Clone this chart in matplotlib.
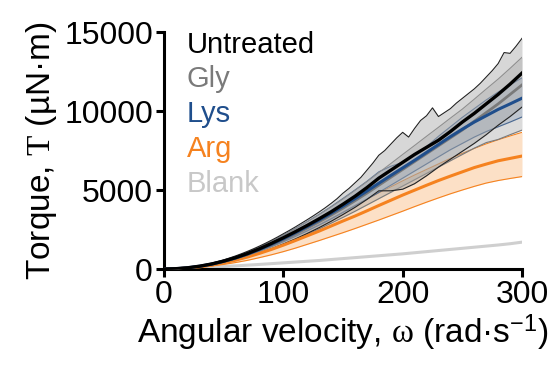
import numpy as np
import matplotlib
matplotlib.use("Agg")
import matplotlib.pyplot as plt

plt.rcParams['font.family'] = ['Liberation Sans', 'DejaVu Sans']
plt.rcParams['mathtext.fontset'] = 'custom'
plt.rcParams['mathtext.rm'] = 'Liberation Serif'
plt.rcParams['mathtext.it'] = 'Liberation Serif:italic'
plt.rcParams['mathtext.sf'] = 'Liberation Sans'

# angular velocity grid (rad/s), readings every 10
omega = np.arange(0, 301, 10)
# finer grid for the jagged top edge of the untreated band
omega_fine = np.arange(0, 301, 5)

untreated_mean = [0, 20, 80, 180, 320, 500, 720, 980, 1280, 1620, 1980, 2360, 2760, 3180, 3620, 4100,
                  4600, 5150, 5750, 6250, 6750, 7250, 7700, 8150, 8700, 9300, 9850, 10450, 11050, 11700, 12400]
untreated_upper = [0, 5, 25, 55, 95, 145, 210, 285, 370, 470, 580, 700, 830, 970, 1120, 1280, 1450, 1630,
                   1820, 2020, 2230, 2440, 2660, 2890, 3120, 3360, 3610, 3870, 4150, 4450, 4800, 5100, 5450,
                   5800, 6250, 6700, 7200, 7500, 7900, 8300, 8650, 8350, 8900, 9400, 9700, 10200, 9650, 9900,
                   10150, 10500, 10800, 11100, 11400, 11750, 12150, 12550, 13000, 13700, 13650, 14100, 14600]
untreated_lower = [0, 15, 60, 140, 250, 390, 560, 770, 1010, 1280, 1580, 1900, 2250, 2620, 3020, 3450,
                   3900, 4400, 4950, 4950, 5050, 5400, 5900, 6450, 6950, 7450, 7950, 8500, 9100, 9650, 10250]

gly_mean = [0, 18, 75, 170, 300, 470, 680, 920, 1200, 1510, 1850, 2210, 2590, 2990, 3410, 3850,
            4320, 4800, 5300, 5800, 6300, 6800, 7300, 7800, 8300, 8800, 9350, 9900, 10450, 11050, 11650]
gly_upper = [0, 21, 86, 196, 345, 540, 780, 1060, 1380, 1740, 2130, 2540, 2980, 3440, 3920, 4430,
             4970, 5520, 6100, 6670, 7250, 7820, 8400, 8970, 9550, 10120, 10750, 11390, 12020, 12700, 13400]
gly_lower = [0, 15, 64, 144, 255, 400, 580, 780, 1020, 1280, 1570, 1880, 2200, 2540, 2900, 3270,
             3650, 4050, 4450, 4850, 5250, 5650, 6050, 6450, 6850, 7250, 7650, 8000, 8200, 8500, 8790]

lys_mean = [0, 20, 80, 180, 315, 490, 700, 950, 1240, 1570, 1920, 2300, 2690, 3100, 3530, 3980,
            4450, 4930, 5430, 5920, 6400, 6880, 7380, 7880, 8380, 8850, 9300, 9700, 10100, 10450, 10810]
lys_upper = [0, 22, 90, 200, 350, 545, 780, 1060, 1380, 1740, 2140, 2560, 3000, 3460, 3950, 4470,
             5000, 5550, 6150, 6500, 6750, 7200, 7750, 8400, 9000, 9600, 10150, 10700, 11200, 11650, 12100]
lys_lower = [0, 17, 70, 160, 280, 435, 625, 850, 1110, 1410, 1720, 2060, 2410, 2780, 3170, 3580,
             4000, 4420, 4850, 5300, 5750, 6200, 6650, 7100, 7550, 7950, 8350, 8700, 9000, 9300, 9620]

arg_mean = [0, 15, 60, 140, 250, 390, 560, 760, 990, 1240, 1510, 1800, 2100, 2400, 2720, 3040,
            3350, 3680, 4020, 4350, 4680, 4990, 5300, 5600, 5880, 6150, 6420, 6640, 6850, 7000, 7150]
arg_upper = [0, 17, 70, 160, 290, 450, 650, 880, 1140, 1430, 1750, 2090, 2450, 2820, 3210, 3610,
             4020, 4420, 4820, 5200, 5580, 5950, 6300, 6650, 7000, 7320, 7630, 7920, 8180, 8420, 8650]
arg_lower = [0, 12, 48, 110, 190, 290, 410, 550, 720, 900, 1100, 1320, 1560, 1800, 2050, 2300,
             2560, 2830, 3100, 3380, 3660, 3950, 4230, 4500, 4760, 5000, 5230, 5440, 5600, 5730, 5850]

blank_mean = [0, 20, 50, 80, 120, 160, 200, 245, 290, 340, 390, 440, 490, 540, 600, 660,
              720, 780, 840, 900, 960, 1030, 1100, 1170, 1240, 1310, 1380, 1450, 1520, 1600, 1700]

labels = ['Untreated', 'Gly', 'Lys', 'Arg', 'Blank']
colors = ['#000000', '#7a7a7a', '#1f4e8c', '#f5821f', '#c8c8c8']

fig = plt.figure(figsize=(5.59, 3.71), dpi=100)
ax = fig.add_axes([0.2934, 0.2749, 0.6404, 0.6388])

# blank
ax.plot(omega, blank_mean, color='#cfcfcf', lw=2.2, zorder=2)

# Arg
ax.fill_between(omega, arg_lower, arg_upper, color='#fcd9b8', alpha=0.8, lw=0, zorder=3)
ax.plot(omega, arg_upper, color=colors[3], lw=0.8, zorder=3)
ax.plot(omega, arg_lower, color=colors[3], lw=0.8, zorder=3)

# Lys
ax.fill_between(omega, lys_lower, lys_upper, color='#9fb6d6', alpha=0.45, lw=0, zorder=4)
ax.plot(omega, lys_upper, color=colors[2], lw=0.8, zorder=4)
ax.plot(omega, lys_lower, color=colors[2], lw=0.8, zorder=4)

# Gly
ax.fill_between(omega, gly_lower, gly_upper, color='#9a9a9a', alpha=0.35, lw=0, zorder=5)
ax.plot(omega, gly_upper, color=colors[1], lw=0.8, zorder=5)
ax.plot(omega, gly_lower, color=colors[1], lw=0.8, zorder=5)

# Untreated
ax.fill_between(omega_fine, np.interp(omega_fine, omega, untreated_lower), untreated_upper,
                color='#a8a8a8', alpha=0.45, lw=0, zorder=6)
ax.plot(omega_fine, untreated_upper, color='#222222', lw=0.8, zorder=6)
ax.plot(omega, untreated_lower, color='#222222', lw=0.8, zorder=6)

# means on top
ax.plot(omega, arg_mean, color=colors[3], lw=2.2, zorder=7)
ax.plot(omega, gly_mean, color=colors[1], lw=2.0, zorder=7)
ax.plot(omega, lys_mean, color=colors[2], lw=2.2, zorder=8)
ax.plot(omega, untreated_mean, color=colors[0], lw=2.4, zorder=9)

ax.set_xlim(0, 300)
ax.set_ylim(0, 15000)
ax.set_xticks([0, 100, 200, 300])
ax.set_yticks([0, 5000, 10000, 15000])
for s in ['top', 'right']:
    ax.spines[s].set_visible(False)
for s in ['left', 'bottom']:
    ax.spines[s].set_linewidth(2.2)
ax.tick_params(width=2.2, length=6, labelsize=23, pad=2)

ax.set_xlabel('Angular velocity, $\\mathrm{\u03c9}$ (rad\u00b7s$^{\\mathsf{-1}}$)', fontsize=24, labelpad=2)
ax.set_ylabel('Torque, $\\mathrm{T}$ (\u00b5N\u00b7m)', fontsize=24, labelpad=4)

# coloured text legend
ys = [0.911, 0.768, 0.620, 0.473, 0.325]
for lab, c, yy in zip(labels, colors, ys):
    ax.text(0.064, yy, lab, color=c, fontsize=21, transform=ax.transAxes, va='baseline', zorder=10)

fig.savefig('out.png', dpi=100)
